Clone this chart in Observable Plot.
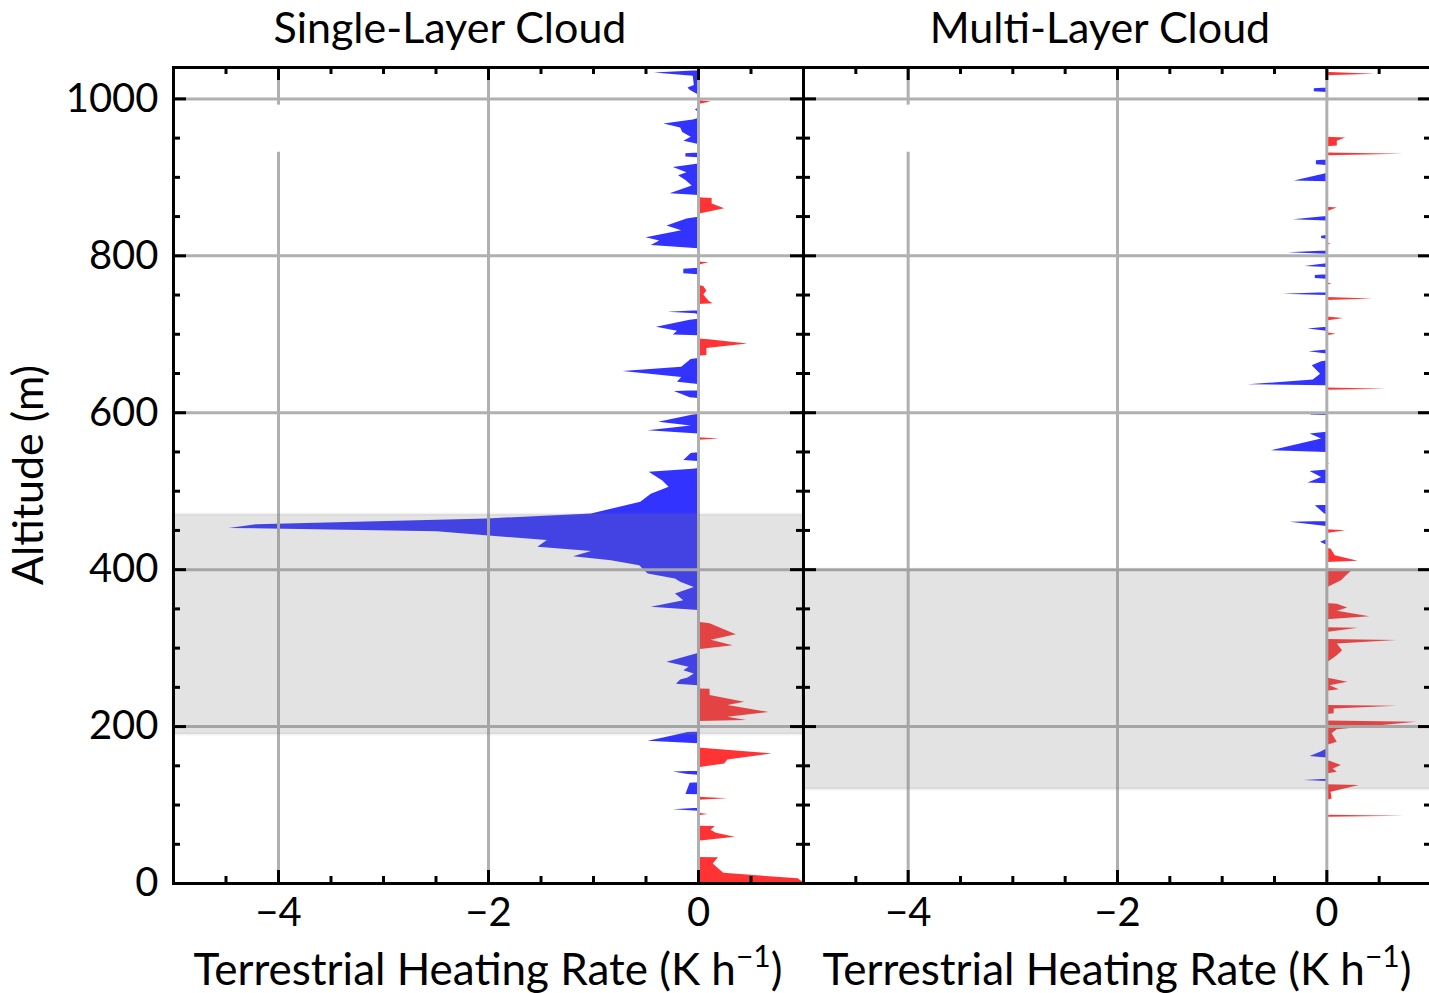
<!DOCTYPE html>
<html>
<head>
<meta charset="utf-8">
<script src="https://cdn.jsdelivr.net/npm/d3@7"></script>
<script src="https://cdn.jsdelivr.net/npm/@observablehq/plot@0.6"></script>
<style>
  html, body { margin: 0; padding: 0; background: #fff; }
  #fig { position: relative; width: 1429px; height: 993px; overflow: hidden; font-family: Lato, sans-serif; }
  #fig svg { position: absolute; left: 0; top: 0; }
</style>
</head>
<body>
<div id="fig"></div>
<script>
// Panel titles and axis text
const panelTitles = ["Single-Layer Cloud", "Multi-Layer Cloud"];
const xLabelText = "Terrestrial Heating Rate (K h";
const xLabelExp = "\u22121";
const yLabelText = "Altitude (m)";

// Tick positions
const xMajor = [-4, -2, 0];
const xMinor = [-4.5, -3.5, -3, -2.5, -1.5, -1, -0.5, 0.5];
const yMajor = [0, 200, 400, 600, 800, 1000];
const yMinor = [50, 100, 150, 250, 300, 350, 450, 500, 550, 650, 700, 750, 850, 900, 950];

// Cloud layer extents (m)
const singleBand = [190, 470];
const multiBand = [120, 400];

// Empty legend box in the upper left of each panel (x in K/h, y in m)
const legendBox = [-4.31, -3.75, 932, 992];

// Single-layer cloud profile: altitude (m) and heating rate (K/h)
const singleAlt = [
  1040, 1036, 1033, 1029, 1017, 1014, 1011, 1005,
  998, 996, 993,
  988, 986, 983,
  975, 973, 968, 963, 957, 951, 946, 943, 942,
  931, 930, 926, 925,
  917, 916, 912.5, 906, 902, 896, 889, 879, 877,
  874, 873, 866, 860, 853,
  849, 847, 838, 832, 823, 819, 813, 809,
  792, 791, 788,
  784, 783, 777, 776,
  762, 761, 755, 750, 742, 739, 738,
  730, 728, 726, 725,
  719, 718, 709, 704, 699, 698,
  694, 693, 687.5, 682, 673, 672,
  669, 668, 658, 652.6, 645, 639, 636,
  628, 627, 619, 618,
  598, 597, 588, 583, 577, 573,
  568, 566.5, 565,
  549, 548, 539, 538,
  529, 528, 524, 513, 505, 496, 486, 477, 471, 464.6, 457.3, 452.6, 448.4, 437, 428.4, 423, 416.6, 411.5, 405, 394.5, 388, 384, 377.4, 369, 360.5, 352, 348,
  333, 331, 317, 310, 303, 298,
  293, 292.6, 282, 275.5, 271, 267, 262, 259.5, 254, 252,
  248, 247.5, 239.5, 231, 227, 218, 212, 207.6, 206.5,
  193, 192.5, 186.4, 181.3, 178,
  173, 172.5, 165.2, 157.5, 152.4, 147.4,
  143, 142, 139, 138,
  128.5, 127.8, 113.4, 113,
  110, 108, 106,
  96, 94, 92,
  89.5, 88, 86.5,
  73, 72.6, 68, 64, 59, 54,
  33, 32.7, 25, 13, 6, 1, 0
];
const singleRate = [
  0, 0, -0.42, -0.05, -0.04, -0.1, -0.08, 0,
  0, 0.12, 0,
  0, -0.03, 0,
  0, -0.05, -0.33, -0.17, -0.15, -0.07, -0.14, -0.04, 0,
  0, -0.12, -0.12, 0,
  0, -0.05, -0.24, -0.11, -0.19, -0.12, -0.06, -0.27, 0,
  0, 0.13, 0.13, 0.25, 0,
  0, -0.11, -0.3, -0.16, -0.5, -0.37, -0.45, 0,
  0, 0.1, 0,
  0, -0.14, -0.14, 0,
  0, 0.05, 0.08, 0.05, 0.1, 0.14, 0,
  0, -0.29, -0.03, 0,
  0, -0.08, -0.4, -0.2, -0.24, 0,
  0, 0.1, 0.47, 0.08, 0.08, 0,
  0, -0.07, -0.16, -0.72, -0.16, -0.2, 0,
  0, -0.23, -0.08, 0,
  0, -0.05, -0.38, -0.07, -0.48, 0,
  0, 0.2, 0,
  0, -0.07, -0.14, 0,
  0, -0.05, -0.47, -0.34, -0.28, -0.45, -0.55, -0.83, -1.02, -2.01, -4.21, -4.47, -2.49, -1.44, -1.53, -1.02, -1.19, -0.83, -0.56, -0.48, -0.22, -0.17, -0.04, -0.22, -0.14, -0.45, 0,
  0, 0.11, 0.36, 0.12, 0.33, 0,
  0, -0.02, -0.3, -0.09, -0.14, -0.04, -0.1, -0.17, -0.21, 0,
  0, 0.11, 0.11, 0.44, 0.28, 0.67, 0.28, 0.46, 0,
  0, -0.1, -0.3, -0.48, 0,
  0, 0.03, 0.7, 0.28, 0.25, 0,
  0, -0.24, -0.1, 0,
  0, -0.08, -0.12, 0,
  0, 0.28, 0,
  0, -0.24, 0,
  0, 0.09, 0,
  0, 0.16, 0.12, 0.17, 0.35, 0,
  0, 0.19, 0.14, 0.24, 0.95, 1.0, 0
];

// Multi-layer cloud profile: altitude (m) and heating rate (K/h)
const multiAlt = [
  1040, 1034, 1033.5, 1031.5, 1029.5,
  1014, 1013, 1009, 1008,
  998, 996, 994,
  951, 950, 946, 940, 939,
  931, 929.5, 927.5,
  922, 921, 916, 915,
  905, 904, 895.5, 894.5,
  862, 861, 856,
  850, 846, 844.5,
  826, 825, 822, 821,
  816, 815, 813,
  806, 804, 802,
  790, 789, 786.5, 785,
  776, 775, 771, 770,
  765.5, 764, 762.5,
  753, 751, 749.5,
  747, 745, 743,
  722, 720, 717,
  709, 706.6, 704,
  702, 700, 698,
  680, 677.7, 675,
  666, 665, 660, 649, 641.6, 635.7, 634.4,
  631.5, 630, 628.5,
  600.5, 600, 597, 596.5,
  575, 572.8, 566.5, 551.6, 549.4,
  536, 535, 534,
  527, 525, 517.6, 510.4, 509.5,
  482, 481.5, 471, 470,
  461.5, 460.3, 455,
  451, 449.7, 446,
  438, 434.8, 431,
  427, 426.4, 417.8, 410.6, 409,
  401, 399.6, 392.4, 386, 376.7,
  357, 356, 351.2, 346.9, 340, 336,
  326, 325.2, 320,
  311, 309.6, 305.3, 296.8, 290.4, 280.7,
  262, 260.7, 256.5, 252, 247, 245,
  227, 225.9, 222.5, 216.2, 215.5,
  207, 205.5, 195.8, 190.7, 180, 175.8,
  171, 170.7, 167.3, 161.8, 160,
  156, 155.8, 150.3, 146, 141.8, 139.7,
  133, 131.2, 130,
  126, 124.8, 116.2, 107.8, 105.7,
  87, 85.8, 84.5, 0
];
const multiRate = [
  0, 0, 0.03, 0.46, 0,
  0, -0.12, -0.12, 0,
  0, 0.02, 0,
  0, 0.18, 0.1, 0.1, 0,
  0, 0.73, 0,
  0, -0.1, -0.1, 0,
  0, -0.03, -0.31, 0,
  0, 0.1, 0,
  0, -0.32, 0,
  0, -0.05, -0.05, 0,
  0, 0.04, 0,
  0, -0.37, 0,
  0, -0.06, -0.21, 0,
  0, -0.11, -0.11, 0,
  0, 0.05, 0,
  0, -0.42, 0,
  0, 0.44, 0,
  0, 0.16, 0,
  0, -0.18, 0,
  0, 0.09, 0,
  0, -0.17, 0,
  0, -0.05, -0.14, -0.06, -0.13, -0.75, 0,
  0, 0.57, 0,
  0, -0.15, -0.15, 0,
  0, -0.16, -0.05, -0.53, 0,
  0, 0.03, 0,
  0, -0.16, -0.05, -0.18, 0,
  0, -0.11, -0.02, 0,
  0, -0.35, 0,
  0, 0.18, 0,
  0, -0.06, 0,
  0, 0.04, 0.08, 0.3, 0,
  0, 0.25, 0.19, 0.14, 0,
  0, 0.1, 0.2, 0.1, 0.41, 0,
  0, 0.3, 0,
  0, 0.67, 0.1, 0.15, 0.1, 0,
  0, 0.05, 0.2, 0.03, 0.12, 0,
  0, 0.67, 0.07, 0.07, 0,
  0, 0.86, 0.1, 0.05, 0.1, 0,
  0, -0.01, -0.06, -0.16, 0,
  0, 0.03, 0.14, 0.06, 0.1, 0,
  0, -0.22, 0,
  0, 0.31, 0.04, 0.05, 0,
  0, 0.74, 0, 0
];

const FONT = "Lato, sans-serif";
const H = 993, M_TOP = 67, M_BOTTOM = 110;
const MAJOR = 13, MINOR = 7;
const fmt = d => d < 0 ? "\u2212" + Math.abs(d) : String(d);

function panel({alt, rate, band, width, left, right, showY}) {
  const rows = alt.map((a, i) => ({alt: a, rate: rate[i]}));
  const fw = width - left - right;
  const fh = H - M_TOP - M_BOTTOM;
  const tickStyle = {stroke: "black", strokeWidth: 3};
  return Plot.plot({
    width, height: H,
    marginLeft: left, marginRight: right, marginTop: M_TOP, marginBottom: M_BOTTOM,
    x: {domain: [-5, 1]},
    y: {domain: [0, 1040], axis: showY ? undefined : null},
    style: {background: "transparent", fontFamily: FONT, fontSize: "40px", overflow: "visible", maxWidth: "none", color: "black"},
    marks: [
      // warming (red) and cooling (blue) fills
      Plot.areaX(rows, {y: "alt", x: d => Math.max(0, d.rate), fill: "red", fillOpacity: 0.8}),
      Plot.areaX(rows, {y: "alt", x: d => Math.min(0, d.rate), fill: "blue", fillOpacity: 0.8}),
      // grid
      Plot.ruleX(xMajor, {x: d => d, stroke: "#b0b0b0", strokeWidth: 3}),
      Plot.ruleY(yMajor.filter(d => d > 0), {y: d => d, stroke: "#b0b0b0", strokeWidth: 3}),
      // empty legend frame
      Plot.rect([legendBox], {x1: d => d[0], x2: d => d[1], y1: d => d[2], y2: d => d[3], fill: "white"}),
      // cloud layer shading
      Plot.rect([band], {y1: d => d[0], y2: d => d[1], fill: "#808080", fillOpacity: 0.22, stroke: "#808080", strokeOpacity: 0.1, strokeWidth: 3}),
      // inward ticks on all four sides
      Plot.tickX(xMajor, {x: d => d, insetTop: fh - MAJOR, ...tickStyle}),
      Plot.tickX(xMajor, {x: d => d, insetBottom: fh - MAJOR, ...tickStyle}),
      Plot.tickX(xMinor, {x: d => d, insetTop: fh - MINOR, ...tickStyle}),
      Plot.tickX(xMinor, {x: d => d, insetBottom: fh - MINOR, ...tickStyle}),
      Plot.tickY(yMajor, {y: d => d, insetRight: fw - MAJOR, ...tickStyle}),
      Plot.tickY(yMajor, {y: d => d, insetLeft: fw - MAJOR, ...tickStyle}),
      Plot.tickY(yMinor, {y: d => d, insetRight: fw - MINOR, ...tickStyle}),
      Plot.tickY(yMinor, {y: d => d, insetLeft: fw - MINOR, ...tickStyle}),
      Plot.frame({stroke: "black", strokeWidth: 3}),
      Plot.axisX(xMajor, {tickSize: 0, tickPadding: 14, tickFormat: fmt, label: null, fontSize: 40, fontFamily: FONT}),
      ...(showY ? [Plot.axisY(yMajor, {tickSize: 0, tickPadding: 15, tickFormat: fmt, label: null, fontSize: 40, fontFamily: FONT})] : [])
    ]
  });
}

const fig = document.getElementById("fig");
fig.append(panel({alt: singleAlt, rate: singleRate, band: singleBand, width: 1429, left: 173, right: 1429 - 803, showY: true}));
fig.append(panel({alt: multiAlt, rate: multiRate, band: multiBand, width: 1440, left: 803, right: 9, showY: false}));

// titles and axis labels
const ov = d3.select(fig).append("svg")
  .attr("width", 1429).attr("height", H)
  .style("font-family", FONT);
const centers = [450, 1100];
panelTitles.forEach((t, i) => {
  ov.append("text").attr("x", centers[i]).attr("y", 43)
    .attr("text-anchor", "middle").attr("font-size", 43).text(t);
});
[488, 1117].forEach(cx => {
  const lab = ov.append("text").attr("x", cx).attr("y", 985)
    .attr("text-anchor", "middle").attr("font-size", 44);
  lab.append("tspan").text(xLabelText);
  lab.append("tspan").attr("dy", -18).attr("font-size", 30).text(xLabelExp);
  lab.append("tspan").attr("dy", 18).text(")");
});
ov.append("text").attr("transform", "translate(43,475) rotate(-90)")
  .attr("text-anchor", "middle").attr("font-size", 43).text(yLabelText);
</script>
</body>
</html>
